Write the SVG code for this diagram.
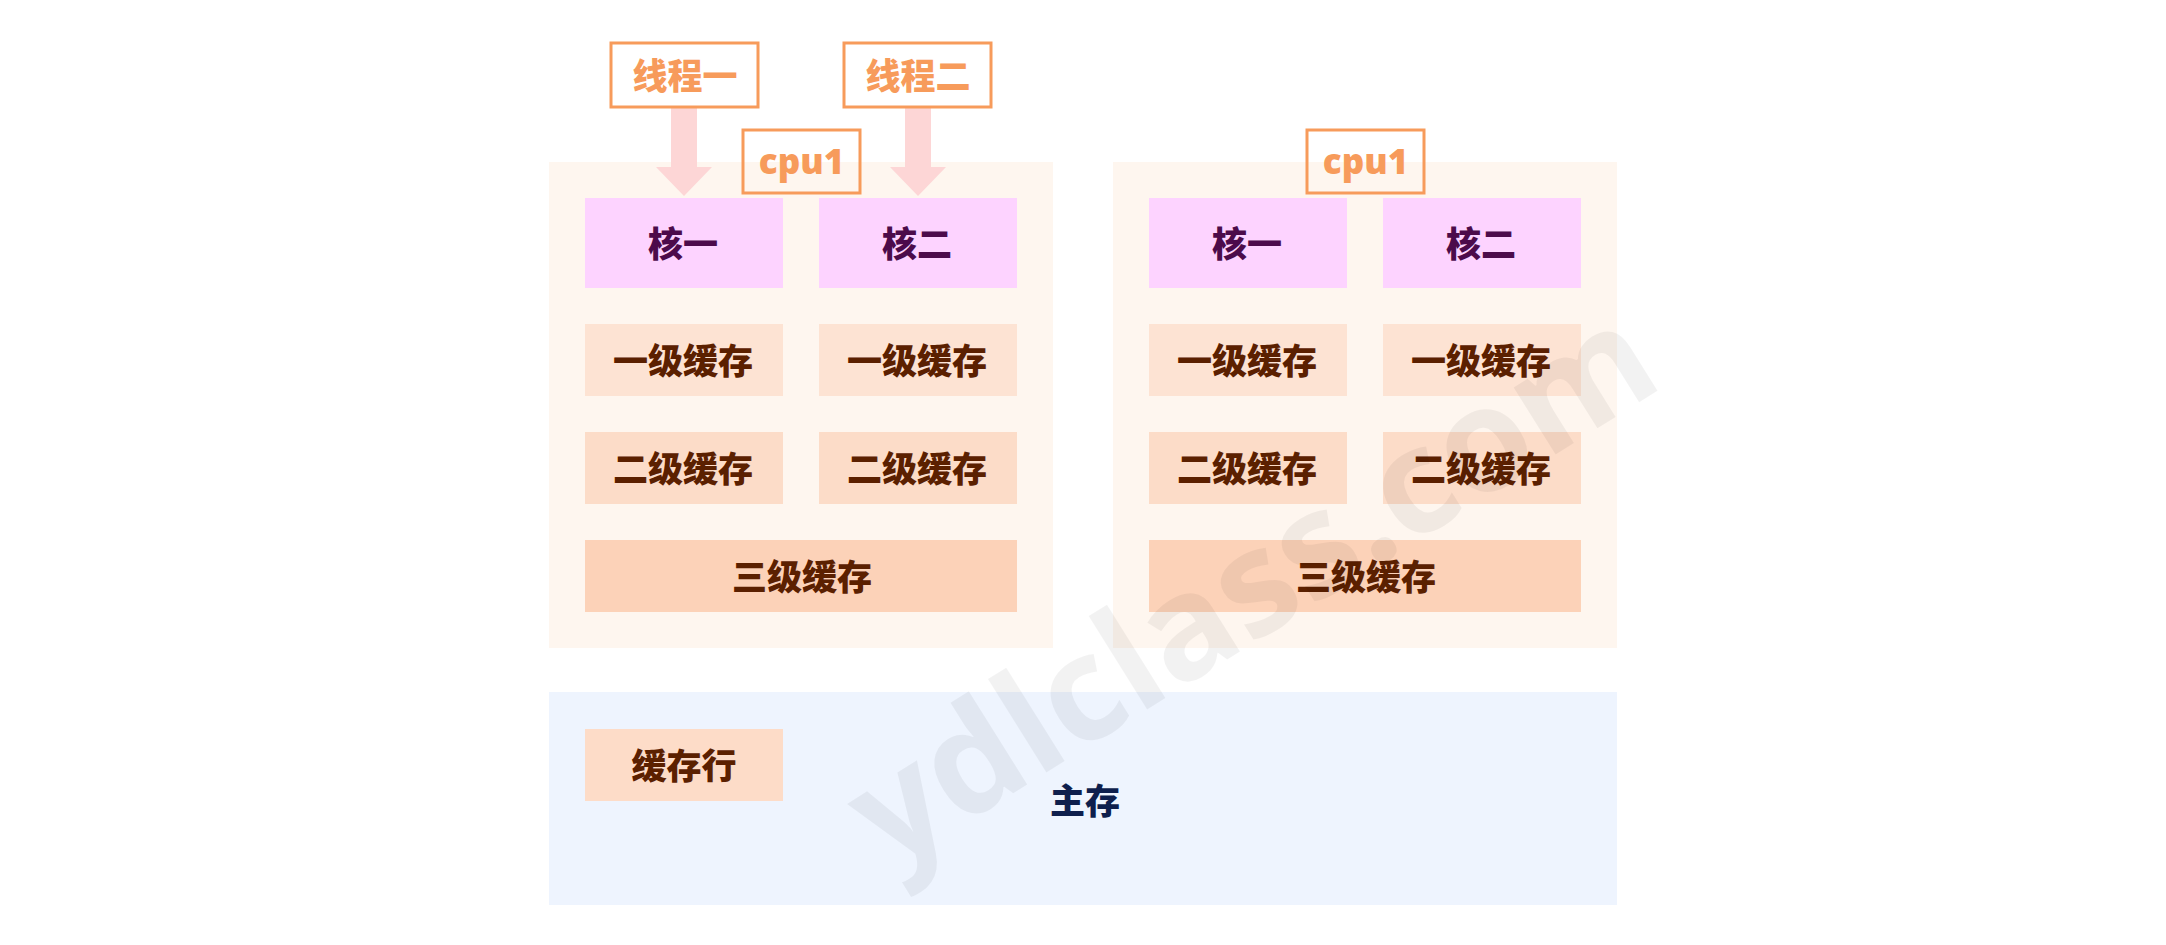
<svg xmlns="http://www.w3.org/2000/svg" width="2166" height="945" viewBox="0 0 2166 945">
<style>
  text { font-family: "Noto Sans", "Noto Sans CJK SC", sans-serif; font-weight: 900; font-size: 35px; text-anchor: middle; dominant-baseline: central; }
  .cpu { fill: #FEF6EF; }
  .core { fill: #FDD3FF; }
  .l1 { fill: #FDE3D3; }
  .l2 { fill: #FCDCC8; }
  .l3 { fill: #FCD2B8; }
  .mem { fill: #EEF4FE; }
  .line { fill: #FDDCC8; }
  .label { fill: none; stroke: #F79B5B; stroke-width: 3; }
  .t-orange { fill: #F79B5B; }
  .t-core { fill: #4C0B4B; }
  .t-cache { fill: #5B2000; }
  .t-mem { fill: #0E1F4D; }
  .arrow { fill: #FDD6D6; }
  .wm { font-family: "Open Sans", "Noto Sans", sans-serif; font-size: 145px; font-weight: bold; fill: #000000; fill-opacity: 0.05; }
</style>

<g id="cpu-left">
  <rect class="cpu" x="549" y="162" width="504" height="486"/>
</g>
<g id="cpu-right">
  <rect class="cpu" x="1113" y="162" width="504" height="486"/>
</g>

<g id="main-memory">
  <rect class="mem" x="549" y="692" width="1068" height="213"/>
  <text class="t-mem" x="1085" y="800">主存</text>
</g>

<g id="connectors">
  <polygon class="arrow" points="671,107 697,107 697,167 712,167 684,196 656,167 671,167"/>
  <polygon class="arrow" points="905,107 931,107 931,167 946,167 918,196 890,167 905,167"/>
</g>

<g id="thread-1">
  <rect class="label" x="611" y="43" width="147" height="64"/>
  <text class="t-orange" x="685" y="75">线程一</text>
</g>
<g id="thread-2">
  <rect class="label" x="844" y="43" width="147" height="64"/>
  <text class="t-orange" x="918" y="75">线程二</text>
</g>

<g id="cpu1-label-left">
  <rect class="label" x="743" y="130" width="117" height="63"/>
  <text class="t-orange" x="801.5" y="160">cpu1</text>
</g>
<g id="cpu1-label-right">
  <rect class="label" x="1307" y="130" width="117" height="63"/>
  <text class="t-orange" x="1365.5" y="160">cpu1</text>
</g>

<g id="left-core-1">
  <rect class="core" x="585" y="198" width="198" height="90"/>
  <text class="t-core" x="683" y="243">核一</text>
</g>
<g id="left-core-2">
  <rect class="core" x="819" y="198" width="198" height="90"/>
  <text class="t-core" x="917" y="243">核二</text>
</g>
<g id="left-l1-1">
  <rect class="l1" x="585" y="324" width="198" height="72"/>
  <text class="t-cache" x="683" y="360">一级缓存</text>
</g>
<g id="left-l1-2">
  <rect class="l1" x="819" y="324" width="198" height="72"/>
  <text class="t-cache" x="917" y="360">一级缓存</text>
</g>
<g id="left-l2-1">
  <rect class="l2" x="585" y="432" width="198" height="72"/>
  <text class="t-cache" x="683" y="468">二级缓存</text>
</g>
<g id="left-l2-2">
  <rect class="l2" x="819" y="432" width="198" height="72"/>
  <text class="t-cache" x="917" y="468">二级缓存</text>
</g>
<g id="left-l3">
  <rect class="l3" x="585" y="540" width="432" height="72"/>
  <text class="t-cache" x="802" y="576">三级缓存</text>
</g>

<g id="right-core-1">
  <rect class="core" x="1149" y="198" width="198" height="90"/>
  <text class="t-core" x="1247" y="243">核一</text>
</g>
<g id="right-core-2">
  <rect class="core" x="1383" y="198" width="198" height="90"/>
  <text class="t-core" x="1481" y="243">核二</text>
</g>
<g id="right-l1-1">
  <rect class="l1" x="1149" y="324" width="198" height="72"/>
  <text class="t-cache" x="1247" y="360">一级缓存</text>
</g>
<g id="right-l1-2">
  <rect class="l1" x="1383" y="324" width="198" height="72"/>
  <text class="t-cache" x="1481" y="360">一级缓存</text>
</g>
<g id="right-l2-1">
  <rect class="l2" x="1149" y="432" width="198" height="72"/>
  <text class="t-cache" x="1247" y="468">二级缓存</text>
</g>
<g id="right-l2-2">
  <rect class="l2" x="1383" y="432" width="198" height="72"/>
  <text class="t-cache" x="1481" y="468">二级缓存</text>
</g>
<g id="right-l3">
  <rect class="l3" x="1149" y="540" width="432" height="72"/>
  <text class="t-cache" x="1366" y="576">三级缓存</text>
</g>

<g id="cache-line">
  <rect class="line" x="585" y="729" width="198" height="72"/>
  <text class="t-cache" x="684" y="765">缓存行</text>
</g>

<g id="watermark">
  <text class="wm" x="1248" y="580" transform="rotate(-32 1248 580)">ydlclass.com</text>
</g>
</svg>
